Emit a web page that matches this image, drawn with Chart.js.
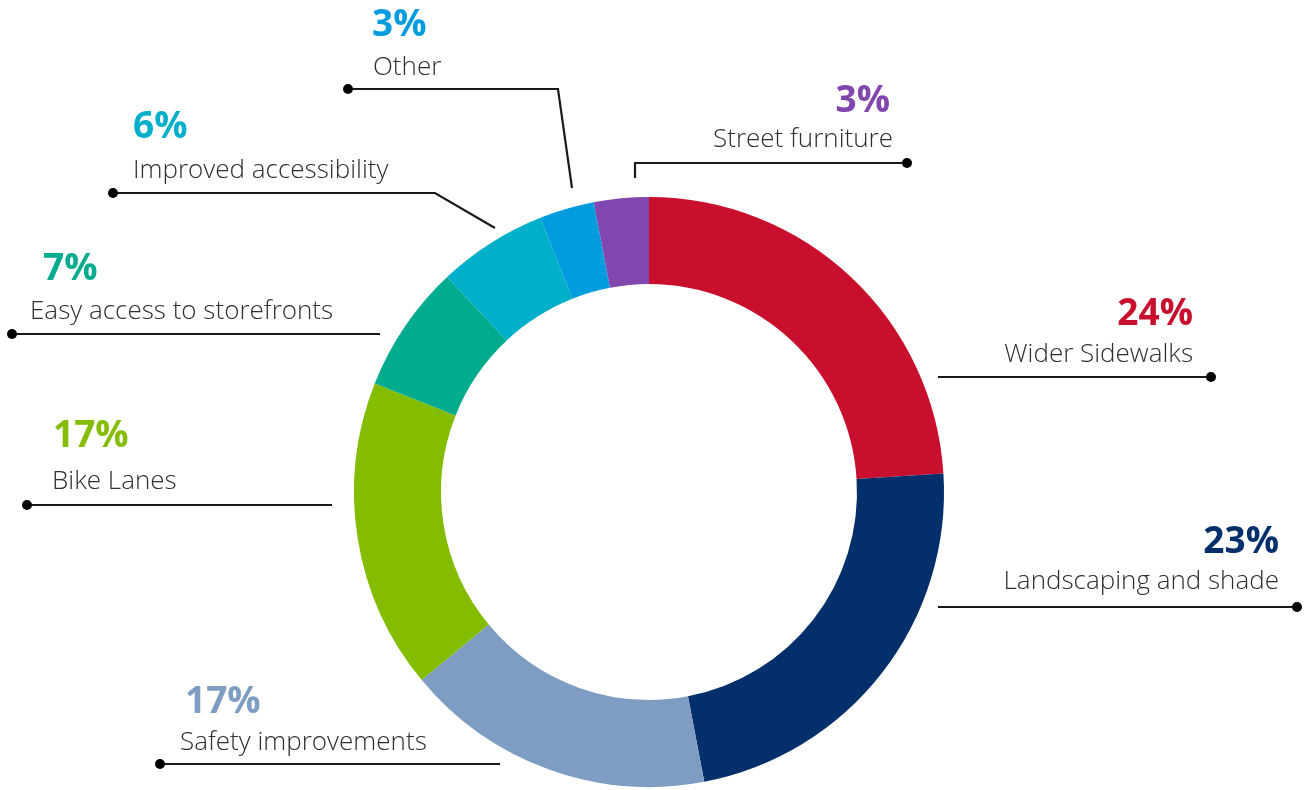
<!DOCTYPE html>
<html>
<head>
<meta charset="utf-8">
<script src="https://cdn.jsdelivr.net/npm/chart.js@4"></script>
<style>
  body { margin: 0; background: #fff; }
  #wrap { width: 1307px; height: 790px; position: relative; }
</style>
</head>
<body>
<div id="wrap"><canvas id="donut"></canvas></div>
<script>
// data
const categories = [
  "Wider Sidewalks",
  "Landscaping and shade",
  "Safety improvements",
  "Bike Lanes",
  "Easy access to storefronts",
  "Improved accessibility",
  "Other",
  "Street furniture"
];
const shares = [24, 23, 17, 17, 7, 6, 3, 3];
const colors = ["#C8102E", "#03306B", "#7F9CC3", "#84BD00", "#00AB8E", "#00AFC9", "#009CDE", "#8246AF"];

// callout layout, offsets from the donut centre (px)
const callouts = [
  { align: "right", x: 544, pctY: -167, labY: -130, path: [[289, -115], [562, -115]] },
  { align: "right", x: 630, pctY: 61, labY: 97, path: [[289, 115], [648, 115]] },
  { align: "left", x: -469, pctX: -464, pctY: 221, labY: 258, path: [[-149, 272], [-489, 272]] },
  { align: "left", x: -597, pctX: -596, pctY: -45, labY: -3, path: [[-317, 13], [-622, 13]] },
  { align: "left", x: -619, pctX: -606, pctY: -212, labY: -173, path: [[-269, -158], [-637, -158]] },
  { align: "left", x: -516, pctY: -354, labY: -314, path: [[-154, -264], [-214, -299], [-536, -299]] },
  { align: "left", x: -276, pctX: -277, pctY: -456, labY: -417, path: [[-77, -304], [-91, -403], [-301, -403]] },
  { align: "right", x: 244, pctX: 241, pctY: -380, labY: -345, path: [[-14, -314], [-14, -329], [258, -329]] }
];

const calloutPlugin = {
  id: "callouts",
  afterDraw(chart) {
    const ctx = chart.ctx;
    const meta = chart.getDatasetMeta(0);
    const cx = meta.data[0].x;
    const cy = meta.data[0].y;
    ctx.save();
    callouts.forEach((c, i) => {
      // leader line
      ctx.strokeStyle = "#1a1a1a";
      ctx.lineWidth = 2.2;
      ctx.beginPath();
      c.path.forEach((p, k) => {
        if (k === 0) ctx.moveTo(cx + p[0], cy + p[1]);
        else ctx.lineTo(cx + p[0], cy + p[1]);
      });
      ctx.stroke();
      const end = c.path[c.path.length - 1];
      ctx.fillStyle = "#000";
      ctx.beginPath();
      ctx.arc(cx + end[0], cy + end[1], 5, 0, Math.PI * 2);
      ctx.fill();

      // texts
      ctx.textAlign = c.align;
      ctx.textBaseline = "alphabetic";
      ctx.fillStyle = colors[i];
      ctx.font = "bold 37px 'Open Sans'";
      const px = c.pctX !== undefined ? c.pctX : c.x;
      ctx.fillText(shares[i] + "%", cx + px, cy + c.pctY);
      ctx.fillStyle = "#2e2e2e";
      ctx.font = "300 26px 'Open Sans'";
      ctx.fillText(categories[i], cx + c.x, cy + c.labY);
    });
    ctx.restore();
  }
};

new Chart(document.getElementById("donut"), {
  type: "doughnut",
  data: {
    labels: categories,
    datasets: [{
      data: shares,
      backgroundColor: colors,
      borderWidth: 0
    }]
  },
  options: {
    responsive: true,
    maintainAspectRatio: false,
    animation: false,
    cutout: "70.5%",
    layout: {
      padding: { top: 197, bottom: 3, left: 354, right: 363 }
    },
    plugins: {
      legend: { display: false },
      tooltip: { enabled: false }
    }
  },
  plugins: [calloutPlugin]
});
</script>
</body>
</html>
